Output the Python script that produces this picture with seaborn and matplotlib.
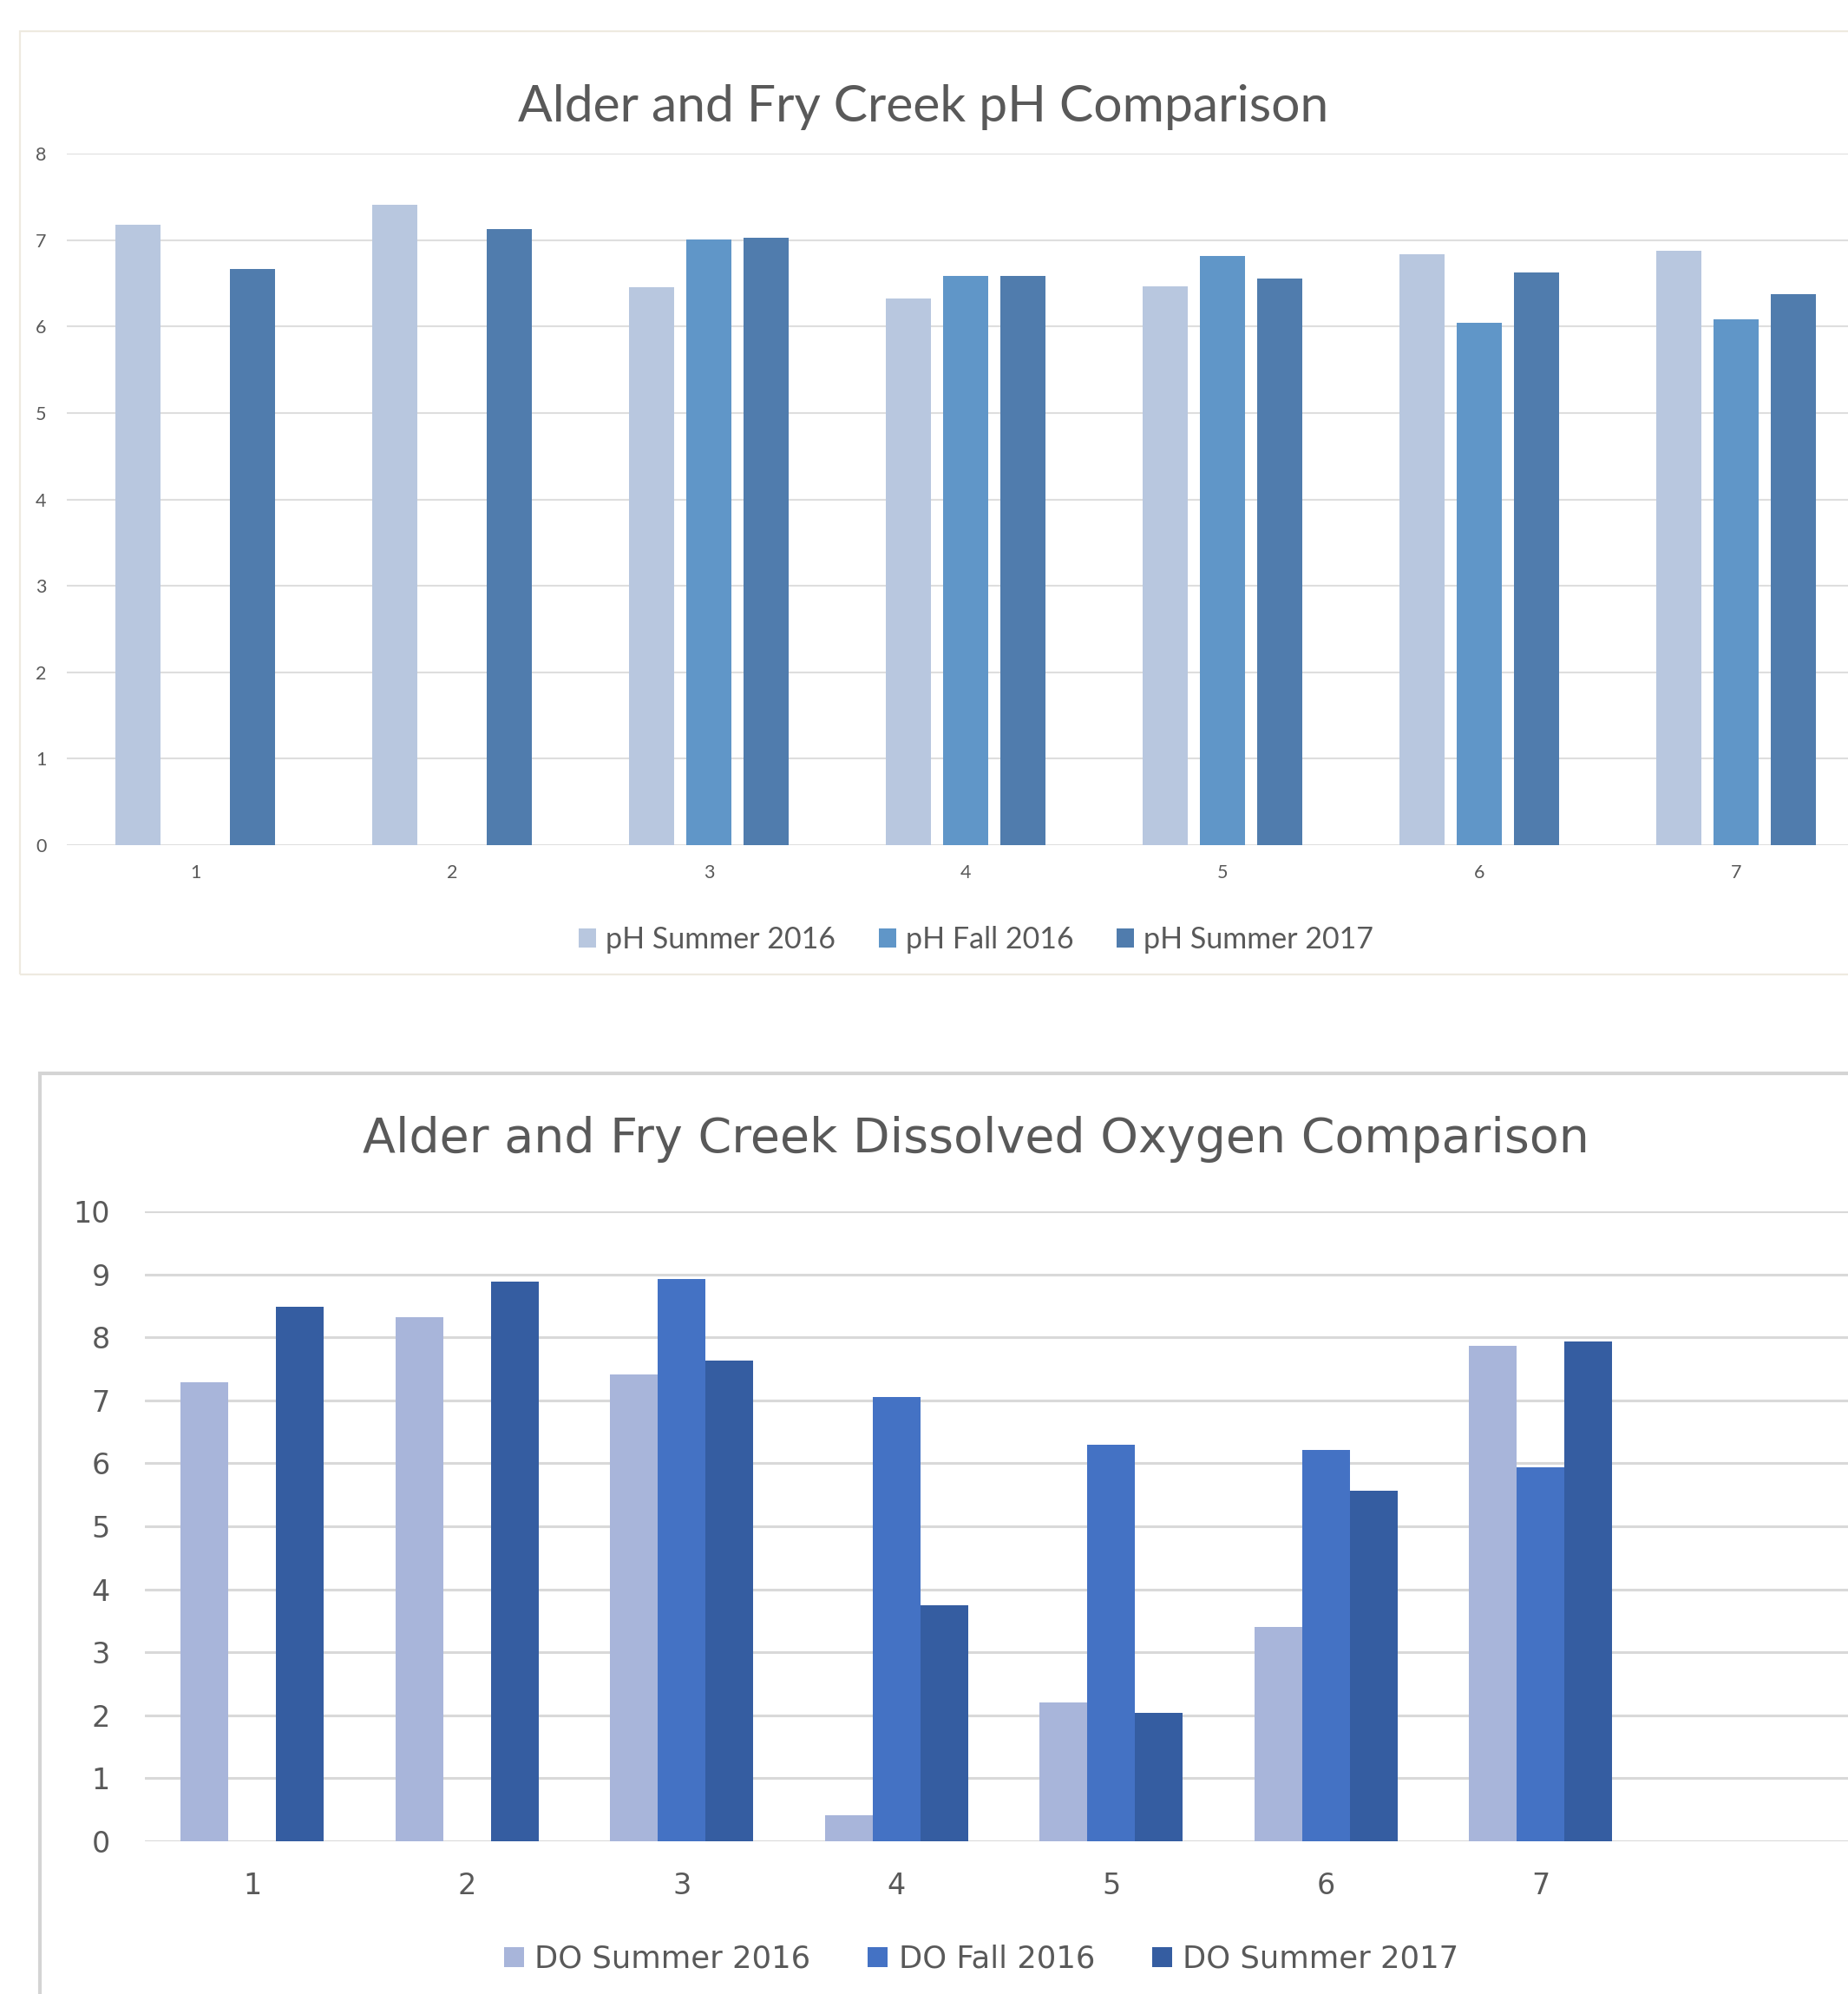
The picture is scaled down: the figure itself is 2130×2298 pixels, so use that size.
import numpy as np
import pandas as pd
import matplotlib
matplotlib.use("Agg")
import matplotlib.pyplot as plt
from matplotlib.patches import Patch, Rectangle
import seaborn as sns

# ---- data -------------------------------------------------------------
sites = ["1", "2", "3", "4", "5", "6", "7"]

ph_series = ["pH Summer 2016", "pH Fall 2016", "pH Summer 2017"]
ph_summer_2016 = [7.18, 7.41, 6.45, 6.32, 6.46, 6.84, 6.88]
ph_fall_2016 = [np.nan, np.nan, 7.01, 6.58, 6.82, 6.04, 6.08]
ph_summer_2017 = [6.67, 7.13, 7.03, 6.58, 6.55, 6.62, 6.37]
ph_ticks = [0, 1, 2, 3, 4, 5, 6, 7, 8]

do_series = ["DO Summer 2016", "DO Fall 2016", "DO Summer 2017"]
do_summer_2016 = [7.29, 8.32, 7.41, 0.42, 2.21, 3.40, 7.87]
do_fall_2016 = [np.nan, np.nan, 8.92, 7.05, 6.30, 6.21, 5.93]
do_summer_2017 = [8.49, 8.89, 7.63, 3.75, 2.04, 5.57, 7.93]
do_ticks = [0, 1, 2, 3, 4, 5, 6, 7, 8, 9, 10]

ph_title = "Alder and Fry Creek pH Comparison"
do_title = "Alder and Fry Creek Dissolved Oxygen Comparison"

ph_colors = ["#B8C7DF", "#6096C8", "#507CAD"]
do_colors = ["#A8B5DA", "#4472C4", "#355DA1"]
TEXT = "#595959"


def long_frame(names, columns):
    rows = []
    for name, vals in zip(names, columns):
        for s, v in zip(sites, vals):
            rows.append({"site": s, "series": name, "value": v})
    return pd.DataFrame(rows).dropna()


ph_df = long_frame(ph_series, [ph_summer_2016, ph_fall_2016, ph_summer_2017])
do_df = long_frame(do_series, [do_summer_2016, do_fall_2016, do_summer_2017])

# ---- figure -------------------------------------------------------------
sns.set_theme(style="white")
plt.rcParams["font.family"] = ["Lato", "DejaVu Sans"]

W, H = 2130, 2298
fig = plt.figure(figsize=(W / 100, H / 100), dpi=100)
fig.patch.set_facecolor("white")


def fx(x):
    return x / W


def fy(y):
    return 1 - y / H


# chart frames
fig.patches.append(Rectangle((fx(23), fy(1123)), (2400 - 23) / W, (1123 - 36) / H,
                             transform=fig.transFigure, fill=False,
                             edgecolor="#EEEAE0", linewidth=1.6, zorder=0))
fig.patches.append(Rectangle((fx(46), fy(2500)), (2400 - 46) / W, (2500 - 1237) / H,
                             transform=fig.transFigure, fill=False,
                             edgecolor="#D4D4D4", linewidth=3.0, zorder=0))

# ---- pH chart -----------------------------------------------------------
ax1 = fig.add_axes([fx(77), fy(974), 2072 / W, 797 / H])
sns.barplot(data=ph_df, x="site", y="value", hue="series",
            order=sites, hue_order=ph_series, palette=ph_colors,
            saturation=1, width=0.669, gap=0.22, linewidth=0,
            errorbar=None, legend=False, ax=ax1)
ax1.set_xlim(-0.5, 6.5)
ax1.set_ylim(0, 8)
ax1.set_yticks(ph_ticks)
ax1.set_xlabel("")
ax1.set_ylabel("")
ax1.set_axisbelow(True)
ax1.yaxis.grid(True, color="#DEDEDE", linewidth=1.5)
ax1.xaxis.grid(False)
sns.despine(ax=ax1, left=True, bottom=True)
ax1.tick_params(axis="both", length=0, labelsize=15.5, labelcolor=TEXT)
ax1.tick_params(axis="y", pad=17)
ax1.tick_params(axis="x", pad=16)

fig.text(fx(1064), fy(140), ph_title, ha="center", va="baseline",
         fontsize=42.3, color=TEXT, family="Lato")

ph_handles = [Patch(facecolor=c, edgecolor="none") for c in ph_colors]
fig.legend(ph_handles, ph_series, loc="center",
           bbox_to_anchor=(fx(1125), fy(1083)), ncol=3, frameon=False,
           prop={"family": "Lato", "size": 24.5}, labelcolor=TEXT,
           handlelength=0.6, handleheight=0.6, handletextpad=0.32,
           columnspacing=1.45, borderpad=0)

# ---- dissolved oxygen chart ---------------------------------------------
ax2 = fig.add_axes([fx(167), fy(2122), 1980 / W, 726 / H])
sns.barplot(data=do_df, x="site", y="value", hue="series",
            order=sites, hue_order=do_series, palette=do_colors,
            saturation=1, width=0.667, gap=0, linewidth=0,
            errorbar=None, legend=False, ax=ax2)
ax2.set_xlim(-0.5, 7.5)
ax2.set_ylim(0, 10)
ax2.set_yticks(do_ticks)
ax2.set_xlabel("")
ax2.set_ylabel("")
ax2.set_axisbelow(True)
ax2.yaxis.grid(True, color="#D9D9D9", linewidth=2.2)
ax2.xaxis.grid(False)
sns.despine(ax=ax2, left=True, bottom=True)
ax2.tick_params(axis="both", length=0, labelsize=24, labelcolor=TEXT)
ax2.tick_params(axis="y", pad=29)
ax2.tick_params(axis="x", pad=25)
for lbl in ax2.get_xticklabels() + ax2.get_yticklabels():
    lbl.set_fontfamily("DejaVu Sans")

fig.text(fx(1125), fy(1328), do_title, ha="center", va="baseline",
         fontsize=40, color=TEXT, family="DejaVu Sans")

do_handles = [Patch(facecolor=c, edgecolor="none") for c in do_colors]
fig.legend(do_handles, do_series, loc="center",
           bbox_to_anchor=(fx(1131), fy(2258)), ncol=3, frameon=False,
           prop={"family": "DejaVu Sans", "size": 25.5}, labelcolor=TEXT,
           handlelength=0.65, handleheight=0.6, handletextpad=0.36,
           columnspacing=1.85, borderpad=0)

fig.savefig("out.png", dpi=100, facecolor="white")
